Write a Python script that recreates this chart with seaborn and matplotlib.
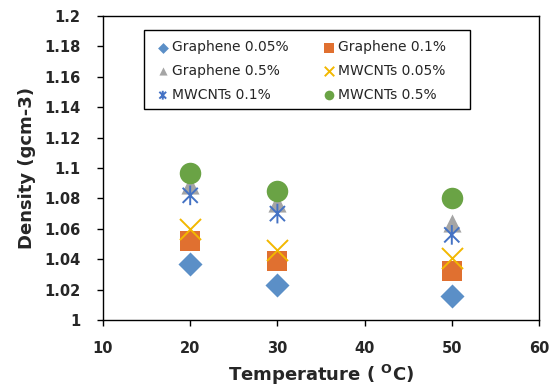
import matplotlib
matplotlib.use('Agg')
import pandas as pd
import seaborn as sns
import matplotlib.pyplot as plt
from matplotlib.path import Path
from matplotlib.patches import Rectangle
from matplotlib.ticker import FuncFormatter, MultipleLocator

# values
temps = [20, 30, 50]
series_names = ['Graphene 0.05%', 'Graphene 0.1%', 'Graphene 0.5%',
                'MWCNTs 0.05%', 'MWCNTs 0.1%', 'MWCNTs 0.5%']
graphene_005 = [1.037, 1.023, 1.016]
graphene_01 = [1.052, 1.039, 1.032]
graphene_05 = [1.089, 1.077, 1.064]
mwcnt_005 = [1.060, 1.046, 1.041]
mwcnt_01 = [1.082, 1.070, 1.056]
mwcnt_05 = [1.097, 1.085, 1.080]

values = [graphene_005, graphene_01, graphene_05, mwcnt_005, mwcnt_01, mwcnt_05]
rows = []
for name, vals in zip(series_names, values):
    for t, v in zip(temps, vals):
        rows.append({'series': name, 'temp': t, 'density': v})
df = pd.DataFrame(rows)

# excel style asterisk: x plus a vertical bar
star = Path([(-1, -1), (1, 1), (-1, 1), (1, -1), (0, -1.3), (0, 1.3)],
            [Path.MOVETO, Path.LINETO, Path.MOVETO, Path.LINETO,
             Path.MOVETO, Path.LINETO])

colors = ['#5B8FC7', '#E07030', '#A5A5A5', '#F2B800', '#4472C4', '#6AA345']
markers = ['D', 's', '^', 'x', star, 'o']
sizes = [150, 210, 170, 230, 200, 240]

sns.set_style('white')
plt.rcParams['font.family'] = ['DejaVu Sans']

fig = plt.figure(figsize=(5.52, 3.9), dpi=100)
ax = fig.add_axes([103 / 552, 1 - 320 / 390, 436 / 552, 304 / 390])

for name, c, m, s in zip(series_names, colors, markers, sizes):
    sub = df[df['series'] == name]
    if m == 'x':
        sns.scatterplot(data=sub, x='temp', y='density', ax=ax, color=c,
                        marker=m, s=s, linewidth=1.4, label=name, zorder=3)
    elif m is star:
        sns.scatterplot(data=sub, x='temp', y='density', ax=ax, color=c,
                        edgecolor=c, facecolor='none', marker=m, s=s,
                        linewidth=1.4, label=name, zorder=3)
    else:
        sns.scatterplot(data=sub, x='temp', y='density', ax=ax, color=c,
                        marker=m, s=s, linewidth=0, label=name, zorder=3)

ax.set_xlim(10, 60)
ax.set_ylim(1.0, 1.2)
ax.xaxis.set_major_locator(MultipleLocator(10))
ax.yaxis.set_major_locator(MultipleLocator(0.02))
ax.yaxis.set_major_formatter(FuncFormatter(lambda v, p: f'{round(v, 3):g}'))
for sp in ax.spines.values():
    sp.set_color('black')
    sp.set_linewidth(1.0)
ax.tick_params(axis='both', direction='out', length=4, width=1, color='black',
               labelsize=10.5, bottom=True, left=True)
ax.tick_params(axis='y', pad=12)
ax.tick_params(axis='x', pad=11)
for lab in ax.get_xticklabels() + ax.get_yticklabels():
    lab.set_fontweight('bold')

ax.set_xlabel(r'Temperature ( $^{\mathbf{O}}$C)', fontsize=13, fontweight='bold',
              labelpad=5)
ax.set_ylabel('Density (gcm-3)', fontsize=13, fontweight='bold', labelpad=6)

h, l = ax.get_legend_handles_labels()
order = [0, 2, 4, 1, 3, 5]
leg = ax.legend([h[i] for i in order], [l[i] for i in order], ncol=2,
                loc='upper left', bbox_to_anchor=(144 / 552, 1 - 30 / 390),
                bbox_transform=fig.transFigure, borderaxespad=0,
                fontsize=10, markerscale=0.45, frameon=False,
                handletextpad=0.1, columnspacing=2.25, labelspacing=0.7,
                borderpad=0.75, handlelength=1.2)
leg.set_zorder(6)
# legend box drawn separately so it can be wider than its contents
box = Rectangle((144 / 552, 1 - 109 / 390), 326 / 552, 79 / 390,
                transform=fig.transFigure, facecolor='white',
                edgecolor='black', linewidth=1.0, zorder=5, clip_on=False)
ax.add_patch(box)

fig.savefig('out.png', dpi=100)
